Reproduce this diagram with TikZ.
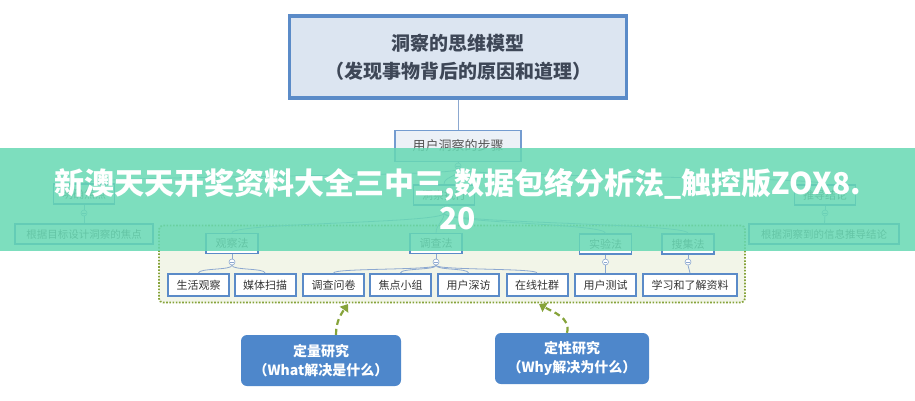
\documentclass[tikz,border=0pt]{standalone}
\usepackage{fontspec}
\setmainfont{Noto Sans CJK SC}
\usetikzlibrary{arrows.meta, shapes, positioning}

\definecolor{frameblue}{HTML}{5B8BC8}
\definecolor{topfill}{HTML}{DCE5F1}
\definecolor{linkblue}{HTML}{8CA8D0}
\definecolor{darktext}{HTML}{3E4757}
\definecolor{greytext}{HTML}{555555}
\definecolor{olive}{HTML}{86A33A}
\definecolor{zonefill}{HTML}{F2F5E8}
\definecolor{solidblue}{HTML}{4E87CB}
\definecolor{ribbongreen}{RGB}{102,216,179}

\begin{document}
\begin{tikzpicture}[x=1pt, y=-1pt,
    topbox/.style={draw=frameblue, line width=3.5pt, fill=topfill, minimum width=337pt,
      minimum height=82pt, align=center, text=darktext,
      font=\fontsize{19}{28}\selectfont\bfseries},
    stepsbox/.style={draw=frameblue!85, line width=1.2pt, fill=topfill!55, minimum width=126pt,
      minimum height=31pt, text=greytext, font=\fontsize{13}{13}\selectfont},
    focusbox/.style={draw=frameblue, line width=1.5pt, fill=white, minimum width=61pt,
      minimum height=20pt, text=greytext, font=\fontsize{11}{11}\selectfont},
    notebox/.style={focusbox, font=\fontsize{10.5}{10.5}\selectfont},
    methodbox/.style={focusbox, minimum width=52pt},
    leafbox/.style={draw=frameblue, line width=2pt, fill=white, minimum width=61pt,
      minimum height=22pt, text=black!80, font=\fontsize{11}{11}\selectfont},
    zone/.style={draw=olive, fill=zonefill, line width=1.8pt, dash pattern=on 1.6pt off 1.6pt,
      rounded corners=4pt, minimum width=586pt, minimum height=77pt},
    fold/.style={circle, draw=linkblue, fill=white, inner sep=0pt, minimum size=6pt, line width=0.6pt,
      path picture={\draw[linkblue, line width=0.5pt]
        ([xshift=-1.8pt]path picture bounding box.center) -- ([xshift=1.8pt]path picture bounding box.center);}},
    link/.style={draw=linkblue, line width=0.8pt},
    research/.style={fill=solidblue, rounded corners=6pt, text=white, align=center,
      minimum height=51pt, font=\fontsize{14}{19}\selectfont\bfseries},
    flow/.style={draw=olive, line width=2.2pt, dash pattern=on 6pt off 4pt,
      -{Triangle[length=7pt, width=10pt]}},
    ribbon/.style={fill=ribbongreen, fill opacity=0.85, text opacity=1, text=white,
      minimum width=915pt, minimum height=103pt, inner sep=0pt, align=center,
      font=\fontsize{30}{35}\selectfont\bfseries}]
  \useasboundingbox (0,0) rectangle (915,400);

  % Nodes
  \node[topbox] (model) at (458,57) {洞察的思维模型\\（发现事物背后的原因和道理）};
  \node[stepsbox] (steps) at (458,146) {用户洞察的步骤};
  \node[fold] (f0) at (458,166) {};

  \node[focusbox] (focus) at (84,194) {明确焦点};
  \node[focusbox] (execute) at (444,195) {洞察执行};
  \node[focusbox] (conclude) at (825,195) {推导结论};
  \node[fold] (f1) at (84,213) {};
  \node[fold] (f2) at (444,210) {};
  \node[fold] (f3) at (825,213) {};
  \node[notebox, minimum width=138pt] (focusnote) at (84,234) {根据目标设计洞察的焦点};
  \node[notebox, minimum width=150pt] (concludenote) at (824,234) {根据洞察到的信息推导结论};

  \node[zone] (zone) at (452,264) {};
  \node[methodbox] (observe) at (232,243.5) {观察法};
  \node[methodbox] (survey) at (436,243.5) {调查法};
  \node[methodbox] (test) at (605.5,244) {实验法};
  \node[methodbox] (collect) at (688,244) {搜集法};
  \node[fold] (fo) at (232,262) {};
  \node[fold] (fs) at (436,262) {};
  \node[fold] (ft) at (605.5,262) {};
  \node[fold] (fc) at (688,262) {};

  \node[leafbox] (life) at (198.5,285) {生活观察};
  \node[leafbox] (media) at (265,285) {媒体扫描};
  \node[leafbox] (quest) at (333.5,285) {调查问卷};
  \node[leafbox] (group) at (400.5,285) {焦点小组};
  \node[leafbox] (depth) at (468.5,285) {用户深访};
  \node[leafbox] (online) at (537,285) {在线社群};
  \node[leafbox] (usertest) at (605.5,285) {用户测试};
  \node[leafbox, minimum width=94pt] (study) at (690,285) {学习和了解资料};

  \node[research, minimum width=160pt] (quant) at (321,360.5) {定量研究\\（What解决是什么）};
  \node[research, minimum width=154pt] (qual) at (572,358.5) {定性研究\\（Why解决为什么）};
  \coordinate (inA) at (348,304);
  \coordinate (inB) at (539,304);

  % Edges
  \path[link] (model) edge (steps)
              (steps) edge (f0)
              (focus) edge (f1)
              (f1) edge (focusnote)
              (execute) edge (f2)
              (conclude) edge (f3)
              (f3) edge (concludenote)
              (observe) edge (fo)
              (survey) edge (fs)
              (test) edge (ft)
              (collect) edge (fc);
  \path[link, out=-90, in=90, max distance=8pt]
        (f0) edge (focus)
             edge (execute)
             edge (conclude);
  \path[link, out=-90, in=90, max distance=10pt]
        (f2) edge (observe)
             edge (survey)
             edge (test)
             edge (collect);
  \path[link, out=-90, in=90, max distance=5pt]
        (fo) edge (life)
             edge (media)
        (fs) edge (quest)
             edge (group)
             edge (depth)
             edge (online)
        (ft) edge (usertest)
        (fc) edge (study);

  \draw[flow] ([xshift=15pt]quant.north) to[out=90, in=235] (inA);
  \draw[flow] ([xshift=-5pt]qual.north) to[out=75, in=-30] (inB);

  % Banner
  \node[ribbon] (banner) at (457.5,199.5) {新澳天天开奖资料大全三中三,数据包络分析法\_触控版ZOX8.\\20};
\end{tikzpicture}
\end{document}
